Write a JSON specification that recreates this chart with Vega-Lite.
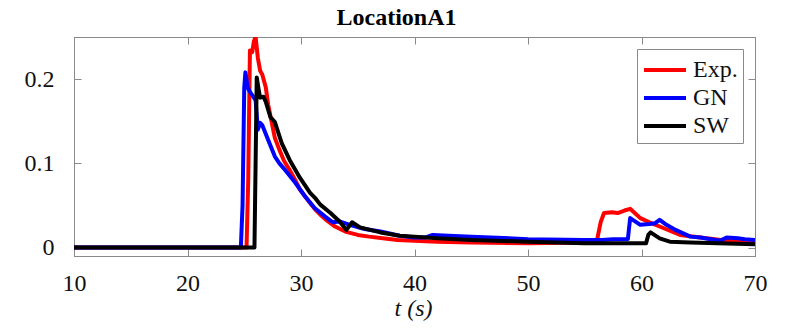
{
  "$schema": "https://vega.github.io/schema/vega-lite/v6.json",
  "width": 681,
  "height": 219,
  "autosize": {"type": "none"},
  "padding": {"left": 74, "top": 37, "right": 35, "bottom": 72},
  "background": "white",
  "config": {
    "view": {"stroke": "#8a8a8a", "strokeWidth": 1},
    "font": "Liberation Serif",
    "axis": {"grid": false, "domainColor": "#8a8a8a", "tickColor": "#8a8a8a", "labelFont": "Liberation Serif", "labelFontSize": 24, "labelColor": "#111", "titleFont": "Liberation Serif", "titleFontSize": 24, "titleColor": "#111", "titleFontWeight": "normal", "labelFlush": false}
  },
  "title": {"text": "LocationA1", "font": "Liberation Serif", "fontSize": 24, "fontWeight": "bold", "color": "#000", "baseline": "bottom", "offset": 5, "dy": 22, "dx": -18, "anchor": "middle"},
  "data": {"values": [
    {"t": 10, "v": 0, "s": "Exp."}, {"t": 25.2, "v": 0, "s": "Exp."}, {"t": 25.35, "v": 0.08, "s": "Exp."}, {"t": 25.5, "v": 0.234, "s": "Exp."}, {"t": 25.7, "v": 0.232, "s": "Exp."}, {"t": 25.85, "v": 0.245, "s": "Exp."}, {"t": 26.0, "v": 0.25, "s": "Exp."}, {"t": 26.2, "v": 0.225, "s": "Exp."}, {"t": 26.4, "v": 0.21, "s": "Exp."}, {"t": 26.6, "v": 0.205, "s": "Exp."}, {"t": 26.9, "v": 0.19, "s": "Exp."}, {"t": 27.1, "v": 0.17, "s": "Exp."}, {"t": 27.4, "v": 0.15, "s": "Exp."}, {"t": 27.7, "v": 0.13, "s": "Exp."}, {"t": 28.1, "v": 0.116, "s": "Exp."}, {"t": 28.5, "v": 0.103, "s": "Exp."}, {"t": 29, "v": 0.092, "s": "Exp."}, {"t": 29.5, "v": 0.08, "s": "Exp."}, {"t": 29.9, "v": 0.069, "s": "Exp."}, {"t": 30.4, "v": 0.06, "s": "Exp."}, {"t": 30.8, "v": 0.053, "s": "Exp."}, {"t": 31.2, "v": 0.046, "s": "Exp."}, {"t": 31.7, "v": 0.039, "s": "Exp."}, {"t": 32.3, "v": 0.032, "s": "Exp."}, {"t": 33, "v": 0.025, "s": "Exp."}, {"t": 33.9, "v": 0.019, "s": "Exp."}, {"t": 35, "v": 0.015, "s": "Exp."}, {"t": 36, "v": 0.013, "s": "Exp."}, {"t": 37.2, "v": 0.011, "s": "Exp."}, {"t": 38.5, "v": 0.009, "s": "Exp."}, {"t": 40, "v": 0.008, "s": "Exp."}, {"t": 42, "v": 0.007, "s": "Exp."}, {"t": 45, "v": 0.006, "s": "Exp."}, {"t": 50, "v": 0.005, "s": "Exp."}, {"t": 55, "v": 0.006, "s": "Exp."}, {"t": 55.8, "v": 0.007, "s": "Exp."}, {"t": 56.1, "v": 0.01, "s": "Exp."}, {"t": 56.4, "v": 0.03, "s": "Exp."}, {"t": 56.7, "v": 0.041, "s": "Exp."}, {"t": 57.4, "v": 0.042, "s": "Exp."}, {"t": 57.9, "v": 0.041, "s": "Exp."}, {"t": 58.5, "v": 0.044, "s": "Exp."}, {"t": 59, "v": 0.046, "s": "Exp."}, {"t": 59.5, "v": 0.04, "s": "Exp."}, {"t": 59.9, "v": 0.035, "s": "Exp."}, {"t": 60.7, "v": 0.03, "s": "Exp."}, {"t": 61.6, "v": 0.025, "s": "Exp."}, {"t": 62.5, "v": 0.02, "s": "Exp."}, {"t": 63.4, "v": 0.015, "s": "Exp."}, {"t": 65.2, "v": 0.012, "s": "Exp."}, {"t": 67, "v": 0.009, "s": "Exp."}, {"t": 68.7, "v": 0.007, "s": "Exp."}, {"t": 70, "v": 0.006, "s": "Exp."},
    {"t": 10, "v": 0, "s": "GN"}, {"t": 24.7, "v": 0, "s": "GN"}, {"t": 24.85, "v": 0.05, "s": "GN"}, {"t": 25.0, "v": 0.19, "s": "GN"}, {"t": 25.1, "v": 0.208, "s": "GN"}, {"t": 25.3, "v": 0.19, "s": "GN"}, {"t": 25.5, "v": 0.185, "s": "GN"}, {"t": 25.8, "v": 0.179, "s": "GN"}, {"t": 26.0, "v": 0.175, "s": "GN"}, {"t": 26.2, "v": 0.14, "s": "GN"}, {"t": 26.4, "v": 0.148, "s": "GN"}, {"t": 26.6, "v": 0.145, "s": "GN"}, {"t": 27.1, "v": 0.128, "s": "GN"}, {"t": 27.7, "v": 0.108, "s": "GN"}, {"t": 28.1, "v": 0.1, "s": "GN"}, {"t": 28.6, "v": 0.092, "s": "GN"}, {"t": 29.5, "v": 0.077, "s": "GN"}, {"t": 30.4, "v": 0.06, "s": "GN"}, {"t": 31.2, "v": 0.047, "s": "GN"}, {"t": 32.1, "v": 0.037, "s": "GN"}, {"t": 32.8, "v": 0.03, "s": "GN"}, {"t": 33.4, "v": 0.031, "s": "GN"}, {"t": 34.3, "v": 0.027, "s": "GN"}, {"t": 35.6, "v": 0.022, "s": "GN"}, {"t": 37, "v": 0.019, "s": "GN"}, {"t": 38.7, "v": 0.014, "s": "GN"}, {"t": 40, "v": 0.012, "s": "GN"}, {"t": 41, "v": 0.012, "s": "GN"}, {"t": 41.6, "v": 0.015, "s": "GN"}, {"t": 43, "v": 0.014, "s": "GN"}, {"t": 45, "v": 0.013, "s": "GN"}, {"t": 50, "v": 0.01, "s": "GN"}, {"t": 55, "v": 0.009, "s": "GN"}, {"t": 56.5, "v": 0.009, "s": "GN"}, {"t": 57.5, "v": 0.01, "s": "GN"}, {"t": 58.8, "v": 0.01, "s": "GN"}, {"t": 59.0, "v": 0.035, "s": "GN"}, {"t": 59.9, "v": 0.027, "s": "GN"}, {"t": 60.7, "v": 0.028, "s": "GN"}, {"t": 61.2, "v": 0.029, "s": "GN"}, {"t": 61.6, "v": 0.033, "s": "GN"}, {"t": 62.2, "v": 0.027, "s": "GN"}, {"t": 63, "v": 0.021, "s": "GN"}, {"t": 64.3, "v": 0.013, "s": "GN"}, {"t": 65.2, "v": 0.012, "s": "GN"}, {"t": 66.9, "v": 0.008, "s": "GN"}, {"t": 67.5, "v": 0.012, "s": "GN"}, {"t": 68.5, "v": 0.011, "s": "GN"}, {"t": 69.1, "v": 0.01, "s": "GN"}, {"t": 70, "v": 0.009, "s": "GN"},
    {"t": 10, "v": 0, "s": "SW"}, {"t": 25.9, "v": 0, "s": "SW"}, {"t": 26.0, "v": 0.1, "s": "SW"}, {"t": 26.1, "v": 0.202, "s": "SW"}, {"t": 26.3, "v": 0.185, "s": "SW"}, {"t": 26.4, "v": 0.178, "s": "SW"}, {"t": 26.7, "v": 0.179, "s": "SW"}, {"t": 26.9, "v": 0.173, "s": "SW"}, {"t": 27.3, "v": 0.155, "s": "SW"}, {"t": 27.7, "v": 0.149, "s": "SW"}, {"t": 28.3, "v": 0.124, "s": "SW"}, {"t": 29, "v": 0.104, "s": "SW"}, {"t": 29.9, "v": 0.083, "s": "SW"}, {"t": 30.8, "v": 0.065, "s": "SW"}, {"t": 31.3, "v": 0.058, "s": "SW"}, {"t": 31.7, "v": 0.051, "s": "SW"}, {"t": 32.6, "v": 0.041, "s": "SW"}, {"t": 33.4, "v": 0.031, "s": "SW"}, {"t": 34, "v": 0.021, "s": "SW"}, {"t": 34.5, "v": 0.03, "s": "SW"}, {"t": 35.2, "v": 0.024, "s": "SW"}, {"t": 37, "v": 0.018, "s": "SW"}, {"t": 38.7, "v": 0.014, "s": "SW"}, {"t": 40, "v": 0.013, "s": "SW"}, {"t": 42, "v": 0.011, "s": "SW"}, {"t": 45, "v": 0.009, "s": "SW"}, {"t": 50, "v": 0.007, "s": "SW"}, {"t": 55, "v": 0.005, "s": "SW"}, {"t": 60.4, "v": 0.005, "s": "SW"}, {"t": 60.6, "v": 0.015, "s": "SW"}, {"t": 60.8, "v": 0.018, "s": "SW"}, {"t": 61.6, "v": 0.011, "s": "SW"}, {"t": 62.5, "v": 0.007, "s": "SW"}, {"t": 64.3, "v": 0.006, "s": "SW"}, {"t": 70, "v": 0.004, "s": "SW"}
  ]},
  "layer": [
    {
      "mark": {"type": "line", "strokeWidth": 4, "strokeJoin": "round", "clip": true},
      "encoding": {
        "x": {"field": "t", "type": "quantitative", "scale": {"domain": [10, 70], "nice": false, "zero": false}, "axis": {"values": [10, 20, 30, 40, 50, 60, 70], "tickSize": -7, "labelPadding": 22, "title": "t (s)", "titleFontStyle": "italic", "titleBaseline": "alphabetic", "titleY": 59, "titleX": 339}},
        "y": {"field": "v", "type": "quantitative", "scale": {"domain": [-0.01, 0.25], "nice": false, "zero": false}, "axis": {"values": [0, 0.1, 0.2], "format": ".1~f", "tickSize": -7, "labelPadding": 27, "title": null}},
        "color": {"field": "s", "type": "nominal", "scale": {"domain": ["Exp.", "GN", "SW"], "range": ["#ff0000", "#0000ff", "#000000"]}, "legend": {"title": null, "orient": "none", "legendX": 563, "legendY": 12, "strokeColor": "#8a8a8a", "fillColor": "white", "padding": 5, "symbolType": "M-1,0H2", "symbolStrokeWidth": 4, "symbolSize": 784, "labelFont": "Liberation Serif", "labelFontSize": 24, "labelColor": "#111", "rowPadding": -1, "labelOffset": 19}}
      }
    },
    {
      "mark": {"type": "rule", "opacity": 0},
      "encoding": {
        "x": {"field": "t", "type": "quantitative", "axis": {"orient": "top", "values": [10, 20, 30, 40, 50, 60, 70], "tickSize": -7, "labels": false, "title": null}},
        "y": {"field": "v", "type": "quantitative", "axis": {"orient": "right", "values": [0, 0.1, 0.2], "tickSize": -7, "labels": false, "title": null}}
      }
    }
  ],
  "resolve": {"axis": {"x": "independent", "y": "independent"}}
}
